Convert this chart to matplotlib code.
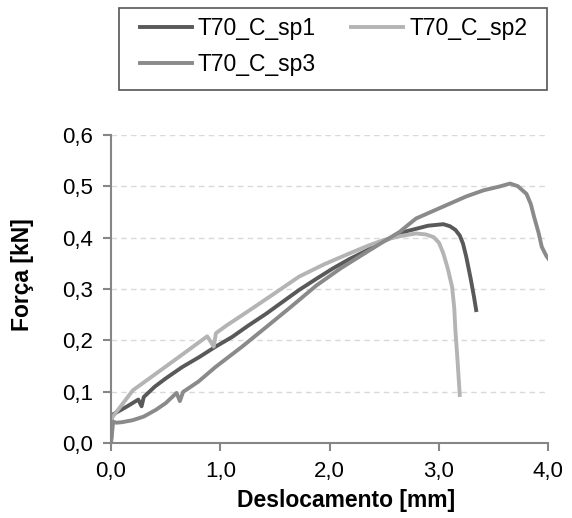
import numpy as np
import matplotlib.pyplot as plt
from matplotlib.patches import Rectangle

plt.rcParams['font.family'] = ['Liberation Sans', 'DejaVu Sans']

# displacement [mm] / force [kN]
sp1_x = [0.0, 0.01, 0.05, 0.15, 0.25, 0.28, 0.30, 0.40, 0.50, 0.65, 0.81, 0.95, 1.11, 1.25, 1.42,
         1.57, 1.72, 1.88, 2.03, 2.18, 2.34, 2.46, 2.58, 2.70, 2.79, 2.90, 3.04,
         3.10, 3.15, 3.19, 3.22, 3.25, 3.29, 3.32, 3.34]
sp1_y = [0.0, 0.055, 0.060, 0.072, 0.085, 0.072, 0.090, 0.110, 0.126, 0.148, 0.168, 0.187, 0.207, 0.228, 0.252,
         0.275, 0.298, 0.320, 0.340, 0.358, 0.375, 0.390, 0.401, 0.412, 0.417, 0.423, 0.426,
         0.422, 0.415, 0.404, 0.388, 0.362, 0.320, 0.285, 0.259]

sp2_x = [0.0, 0.01, 0.10, 0.20, 0.35, 0.50, 0.70, 0.88, 0.94, 0.96, 1.05, 1.27, 1.50,
         1.72, 1.95, 2.18, 2.35, 2.49, 2.65, 2.79, 2.88, 2.95, 3.00, 3.04, 3.08,
         3.12, 3.14, 3.15, 3.17, 3.19]
sp2_y = [0.0, 0.050, 0.075, 0.103, 0.126, 0.149, 0.180, 0.208, 0.188, 0.214, 0.228, 0.259, 0.292,
         0.324, 0.348, 0.369, 0.384, 0.395, 0.403, 0.408, 0.406, 0.401, 0.390, 0.369, 0.340,
         0.304, 0.262, 0.220, 0.160, 0.094]

sp3_x = [0.0, 0.01, 0.02, 0.05, 0.10, 0.20, 0.30, 0.41, 0.50, 0.60, 0.63, 0.66, 0.80,
         0.96, 1.20, 1.42, 1.65, 1.88, 2.10, 2.34, 2.50, 2.64, 2.72, 2.79, 2.95,
         3.10, 3.25, 3.41, 3.55, 3.65, 3.72, 3.80, 3.84, 3.87, 3.91, 3.94, 3.98, 4.02]
sp3_y = [0.0, 0.020, 0.042, 0.040, 0.041, 0.045, 0.052, 0.065, 0.078, 0.098, 0.082, 0.100, 0.120,
         0.149, 0.188, 0.226, 0.266, 0.307, 0.340, 0.372, 0.393, 0.411, 0.425, 0.437, 0.452,
         0.466, 0.480, 0.492, 0.499, 0.505, 0.500, 0.485, 0.465, 0.440, 0.410, 0.382, 0.365, 0.353]

labels = ['T70_C_sp1', 'T70_C_sp2', 'T70_C_sp3']
colors = ['#595959', '#b4b4b4', '#8a8a8a']

fig = plt.figure(figsize=(5.72, 5.18), dpi=100)
ax = fig.add_axes([0.194, 0.1442, 0.7646, 0.5958])

lines = []
for xs, ys, lab, c in zip([sp1_x, sp2_x, sp3_x], [sp1_y, sp2_y, sp3_y], labels, colors):
    ln, = ax.plot(xs, ys, color=c, lw=2.8, label=lab, solid_joinstyle='round')
    lines.append(ln)

ax.set_xlim(0, 4)
ax.set_ylim(0, 0.6)
xt = np.arange(0, 4.01, 1.0)
yt = np.arange(0, 0.61, 0.1)
ax.set_xticks(xt)
ax.set_yticks(yt)
ax.set_xticklabels([f'{v:.1f}'.replace('.', ',') for v in xt])
ax.set_yticklabels([f'{v:.1f}'.replace('.', ',') for v in yt])
ax.tick_params(labelsize=16, color='#868686', length=6, width=1.5, pad=7)

for s in ['top', 'right']:
    ax.spines[s].set_visible(False)
for s in ['left', 'bottom']:
    ax.spines[s].set_color('#868686')
    ax.spines[s].set_linewidth(1.5)

ax.yaxis.grid(True, color='#d9d9d9', linestyle=(0, (4, 3)), lw=1)
ax.set_axisbelow(True)

ax.set_xlabel('Deslocamento [mm]', fontsize=16.5, fontweight='bold')
ax.set_ylabel('Força [kN]', fontsize=16.5, fontweight='bold')
ax.xaxis.set_label_coords(0.5385, -0.148)
ax.yaxis.set_label_coords(-0.176, 0.545)

# legend box drawn separately, entries placed row-wise
fig.patches.append(Rectangle((119 / 572, 1 - 90 / 518), 428 / 572, 82 / 518,
                             transform=fig.transFigure, fill=False,
                             edgecolor='#555555', lw=1.2))
order = [0, 2, 1]
leg = fig.legend([lines[i] for i in order], [labels[i] for i in order],
                 loc='upper left', bbox_to_anchor=(140 / 572, 1 - 17 / 518), ncol=2,
                 fontsize=16.5, frameon=False, handlelength=2.27,
                 handletextpad=0.26, columnspacing=1.53, borderaxespad=0, borderpad=0,
                 labelspacing=0.55)

fig.savefig('out.png', dpi=100)
